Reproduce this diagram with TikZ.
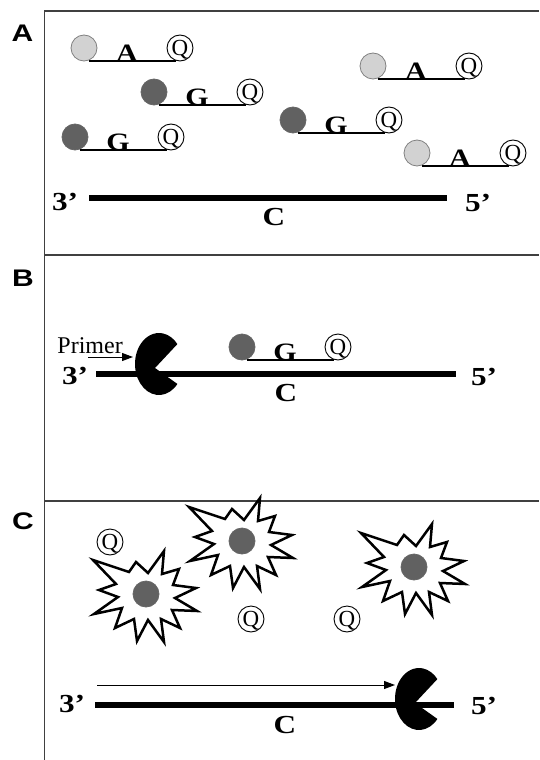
\documentclass[tikz,border=0pt]{standalone}
\usepackage{fontspec}
\setmainfont{Liberation Serif}
\newfontfamily\wideserif[FakeStretch=1.2]{Liberation Serif}
\newfontfamily\widesans[FakeStretch=1.25]{Liberation Sans}
\usetikzlibrary{arrows.meta}

\definecolor{lightfl}{HTML}{D2D2D2}
\definecolor{darkfl}{HTML}{616161}

\tikzset{
  frame/.style={line width=1.6pt, draw=black!75},
  panellabel/.style={font=\widesans\bfseries\fontsize{24}{28}\selectfont, inner sep=0pt},
  endlabel/.style={font=\wideserif\bfseries\fontsize{26}{30}\selectfont, inner sep=0pt},
  strand/.style={line width=5.8pt},
  fluor/.style={circle, minimum size=26pt, inner sep=0pt, outer sep=0pt, line width=0.8pt},
  lightdye/.style={fluor, fill=lightfl, draw=black!50},
  darkdye/.style={fluor, fill=darkfl, draw=black!60},
  quench/.style={circle, draw, line width=0.9pt, minimum size=26pt, inner sep=0pt,
    outer sep=0pt, font=\fontsize{23}{26}\selectfont, text depth=0pt},
  baselabel/.style={font=\wideserif\bfseries\fontsize{25}{28}\selectfont, inner sep=0pt},
  probeline/.style={line width=1.8pt},
  burst/.style={draw, line width=2.5pt, fill=white, line join=miter},
  enzyme/.style={fill=black},
  pointer/.style={line width=1pt, -{Triangle[length=11pt,width=8pt]}},
}

% labelled probe: reporter dye, base letter, quencher, backbone
% #1 name, #2 x, #3 y, #4 dye style, #5 base
\newcommand{\probeAt}[5]{%
  \node[#4] (#1f) at (#2,#3) {};
  \node[quench] (#1q) at (#2+96,#3) {Q};
  \node[baselabel] (#1b) at (#2+43,#3+5) {#5};
  \draw[probeline] ([xshift=5pt]#1f.south) -- ([xshift=-4pt]#1q.south);
}

% released reporter dye with a burst outline
\newcommand{\burstAt}[3]{%
  \begin{scope}[shift={(#2,#3)}]
    \draw[burst] (-53,-34) -- (-17,-22) -- (-10,-32) -- (2,-21) -- (18,-43)
      -- (16,-20) -- (33,-25) -- (27,-9) -- (50,-6) -- (29,4) -- (51,17)
      -- (26,16) -- (34,34) -- (15,25) -- (18,48) -- (2,26) -- (-9,47)
      -- (-12,25) -- (-31,34) -- (-24,14) -- (-52,20) -- (-28,3) -- (-47,-4)
      -- (-30,-10) -- cycle;
  \end{scope}
  \node[darkdye] (#1) at (#2,#3) {};
}

% polymerase drawn as an open-mouthed disc
\newcommand{\enzymeAt}[3]{%
  \coordinate (#1) at (#2,#3);
  \begin{scope}[shift={(#2,#3)}]
    \fill[enzyme] (-4,4) -- (40:24 and 31)
      arc[start angle=40, end angle=320, x radius=24, y radius=31] -- cycle;
  \end{scope}
}

\begin{document}
\begin{tikzpicture}[x=1pt, y=-1pt]
\useasboundingbox (0,0) rectangle (539,760);

% frame and panel separators
\draw[frame] (44.5,760) -- (44.5,11) -- (539,11);
\draw[frame] (44.5,255) -- (539,255);
\draw[frame] (44.5,501) -- (539,501);

\node[panellabel] (labA) at (22.5,33.5) {A};
\node[panellabel] (labB) at (23,278) {B};
\node[panellabel] (labC) at (23,521) {C};

% ---------- panel A: free probes above the template ----------
\probeAt{p1}{84}{48}{lightdye}{A}
\probeAt{p2}{154}{92}{darkdye}{G}
\probeAt{p3}{75}{137}{darkdye}{G}
\probeAt{p4}{373}{66}{lightdye}{A}
\probeAt{p5}{293}{120}{darkdye}{G}
\probeAt{p6}{417}{153}{lightdye}{A}

\coordinate (as) at (89,198);
\coordinate (ae) at (447,198);
\draw[strand] (as) -- (ae);
\node[endlabel] (a3) at (65,202) {3’};
\node[endlabel] (a5) at (478,203) {5’};
\node[endlabel] (ac) at (274,217) {C};

% ---------- panel B: probe bound, primer extension ----------
\coordinate (bs) at (96,374);
\coordinate (be) at (456,374);
\draw[strand] (bs) -- (be);
\node[endlabel] (b3) at (75,376) {3’};
\node[endlabel] (b5) at (484,377) {5’};
\node[endlabel] (bc) at (286,393) {C};

\enzymeAt{polB}{159}{364}
\node[font=\fontsize{24}{28}\selectfont, inner sep=0pt, anchor=base east] (primer) at (123,353) {Primer};
\coordinate (pstart) at (88,357);
\coordinate (ptip) at (133,357);
\draw[pointer] (pstart) -- (ptip);

\probeAt{pb}{242}{347}{darkdye}{G}

% ---------- panel C: cleaved probe, free dye and quencher ----------
\node[quench] (q1) at (110,542) {Q};
\node[quench] (q2) at (251,619) {Q};
\node[quench] (q3) at (347,619) {Q};

\burstAt{s1}{146}{594}
\burstAt{s2}{242}{541}
\burstAt{s3}{414}{567}

\coordinate (cs) at (95,705);
\coordinate (ce) at (454,705);
\draw[strand] (cs) -- (ce);
\node[endlabel] (c3) at (72,704) {3’};
\node[endlabel] (c5) at (484,706) {5’};
\node[endlabel] (cc) at (285,725) {C};

\enzymeAt{polC}{419}{699}
\coordinate (xstart) at (97,685);
\coordinate (xtip) at (395,685);
\draw[pointer] (xstart) -- (xtip);

\end{tikzpicture}
\end{document}
